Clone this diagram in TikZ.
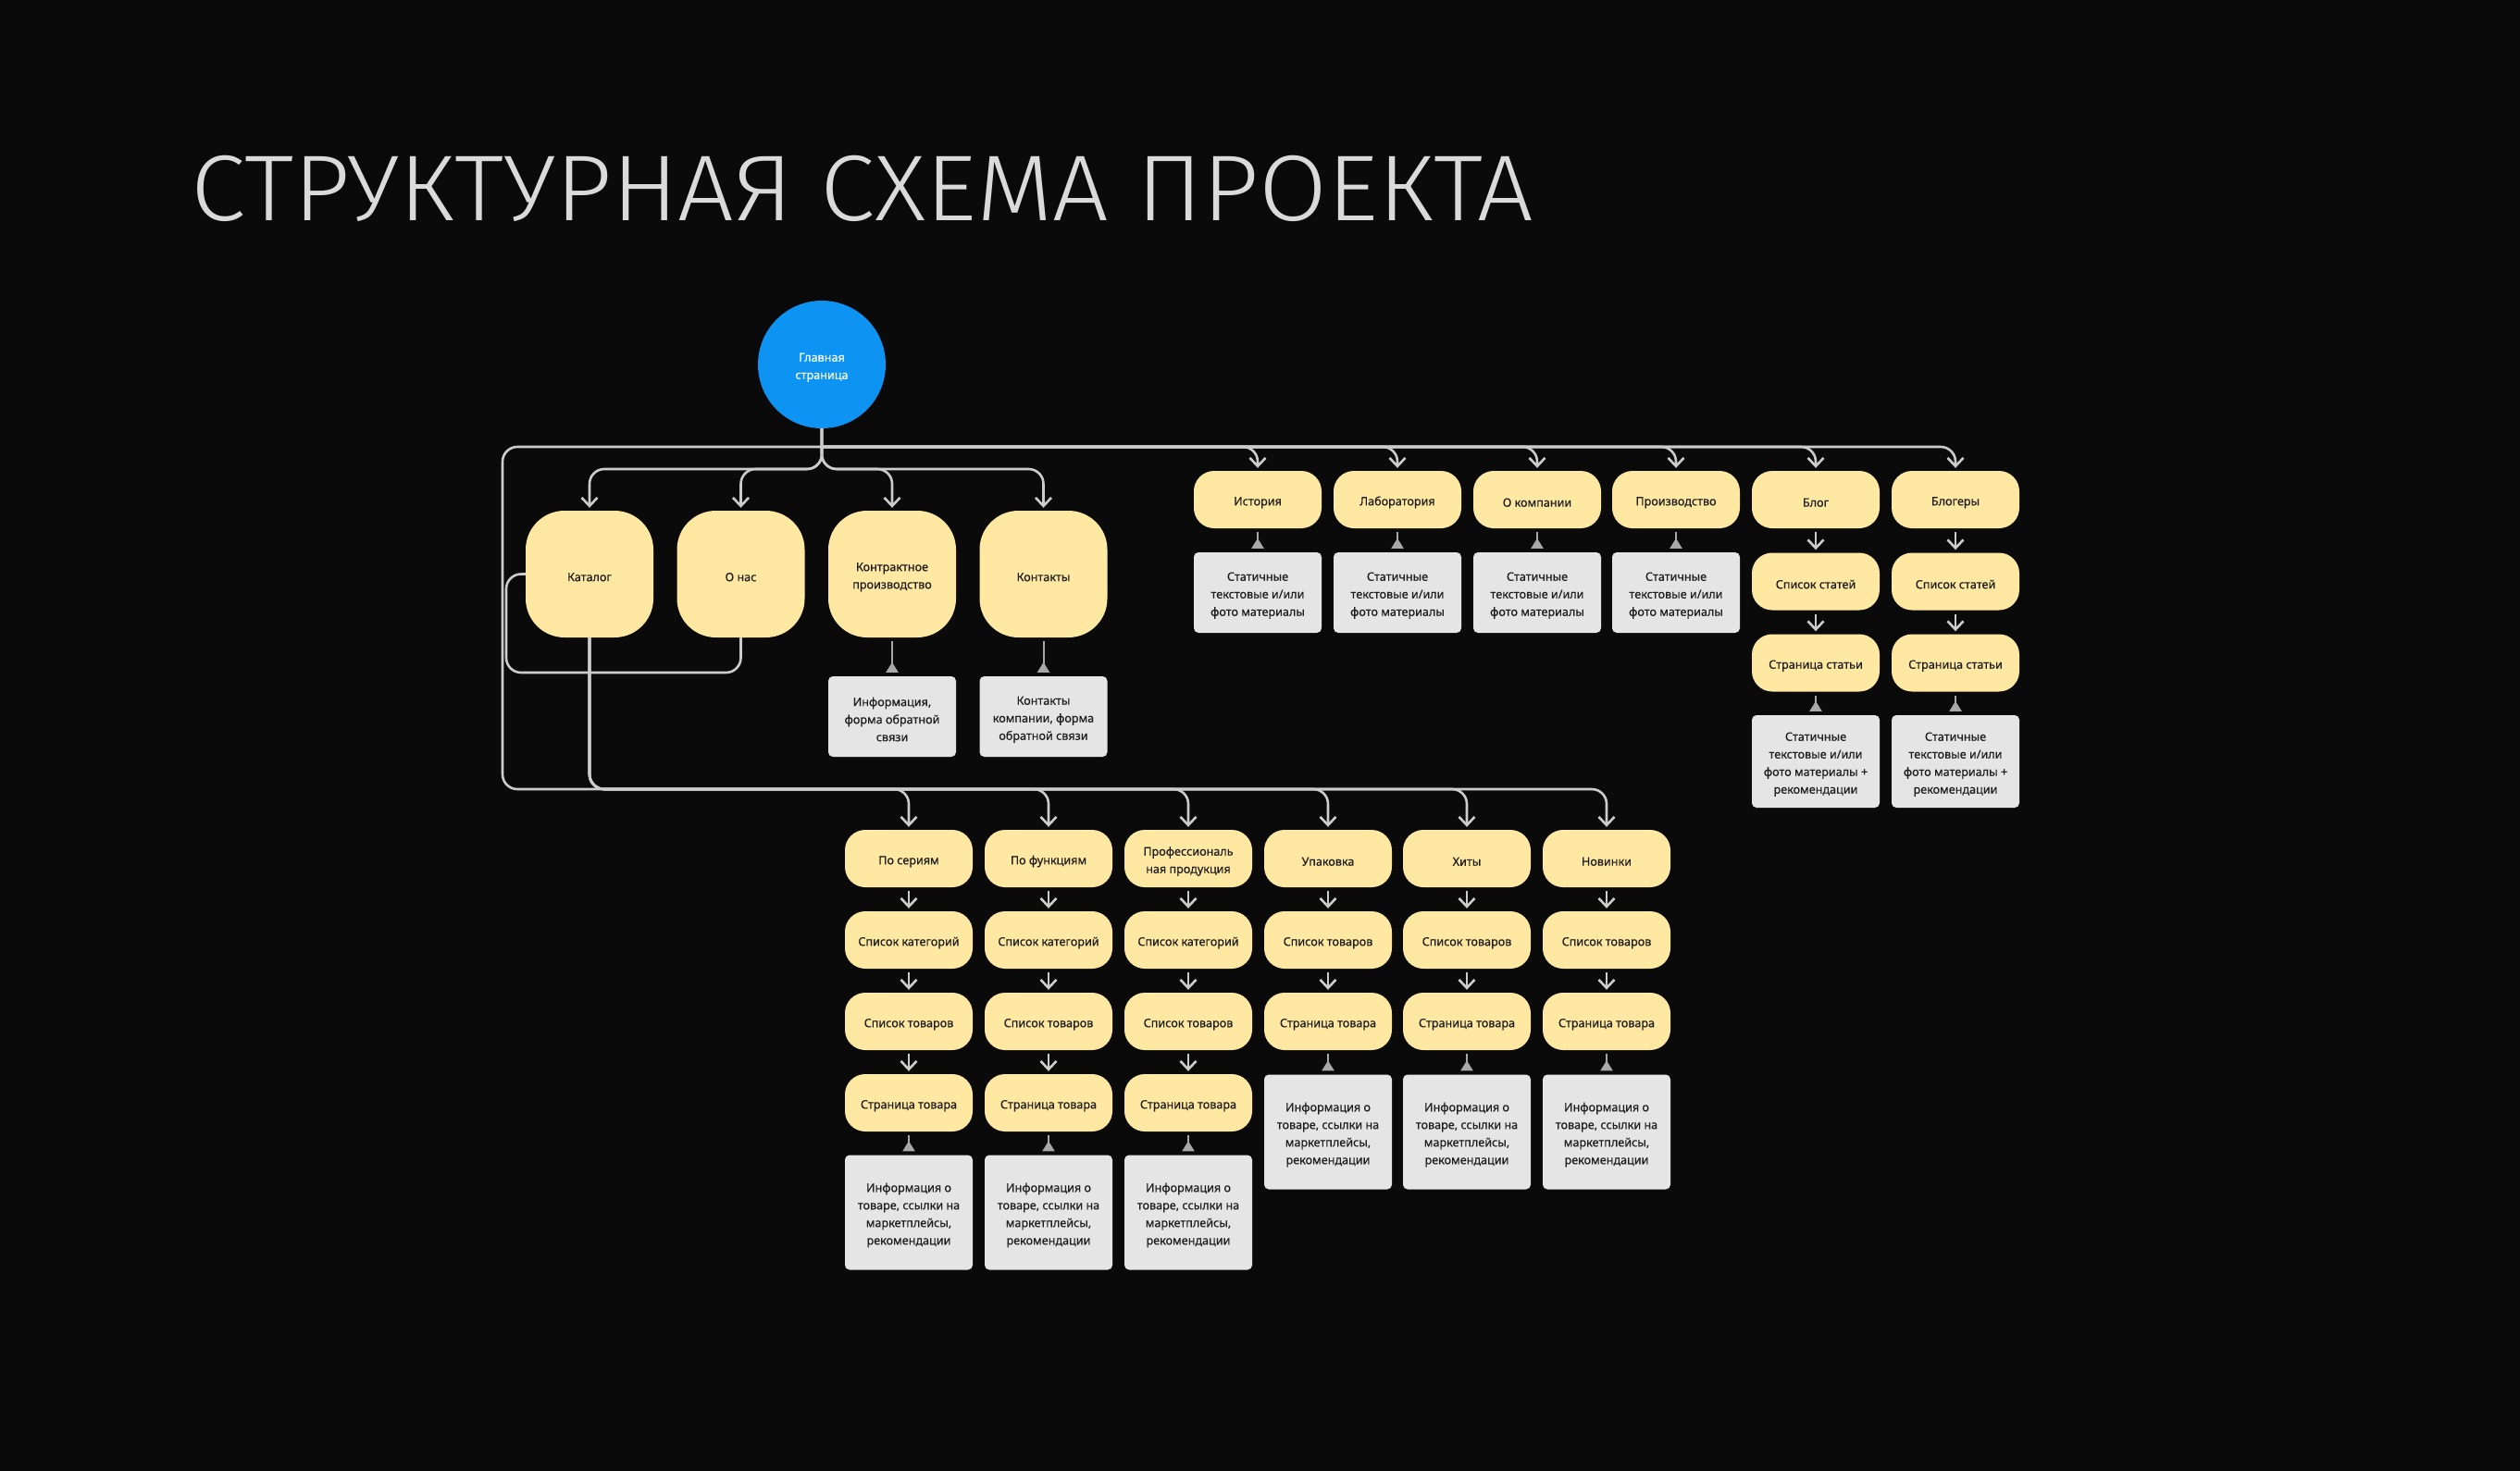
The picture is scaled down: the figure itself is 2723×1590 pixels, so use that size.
\documentclass[tikz,border=0pt]{standalone}
\usepackage{fontspec}
\setmainfont{Noto Sans}[FakeBold=0.5]
\newfontfamily\titlefont{Fira Sans Light}[FakeStretch=1.06]
\usetikzlibrary{arrows.meta,calc}
\definecolor{bgc}{HTML}{0A0A0A}
\definecolor{yelc}{HTML}{FEE8A2}
\definecolor{greyc}{HTML}{E5E5E5}
\definecolor{bluec}{HTML}{0D93F2}
\definecolor{linec}{HTML}{CCCCCC}
\definecolor{tric}{HTML}{A8A8A8}
\definecolor{txtc}{HTML}{1E1E1E}
\definecolor{titlec}{HTML}{DADADA}
\newcommand\txtup{\rule{0pt}{15.5pt}}
\tikzset{
  basefont/.style={font=\fontsize{12.6}{19}\selectfont, execute at begin node={\txtup}},
  pill/.style={rectangle, rounded corners=22pt, fill=yelc, minimum width=138pt, minimum height=62pt, align=center, text=txtc, inner sep=2pt, basefont},
  bigpill/.style={rectangle, rounded corners=42pt, fill=yelc, minimum width=138pt, minimum height=137pt, align=center, text=txtc, inner sep=2pt, basefont},
  gbox/.style={rectangle, rounded corners=5pt, fill=greyc, minimum width=138pt, align=center, text=txtc, inner sep=2pt, basefont},
  conn/.style={draw=linec, line width=2.6pt, rounded corners=16pt, -{Straight Barb[width=17pt,length=9pt]}, shorten >=3pt},
  plainlink/.style={draw=linec, line width=2.6pt, rounded corners=16pt},
  vconn/.style={conn, shorten <=4pt},
  infolink/.style={draw=tric, line width=2pt, -{Triangle[reversed,width=13pt,length=11pt]}, shorten >=4pt, shorten <=4pt},
}
\begin{document}
\begin{tikzpicture}[x=1pt,y=-1pt]
\fill[bgc] (0,0) rectangle (2723,1590);

\node[anchor=base west, text=titlec, font=\titlefont\fontsize{101}{101}\selectfont, inner sep=0pt] (title) at (206,238) {СТРУКТУРНАЯ СХЕМА ПРОЕКТА};

% main
\node[circle, fill=bluec, minimum size=138pt, inner sep=0pt, text=white, align=center, basefont] (m) at (888,394) {\txtup Главная\\страница};

% row A
\node[bigpill] (kat) at (637,620.5) {Каталог};
\node[bigpill] (onas) at (800.5,620.5) {О нас};
\node[bigpill] (kontr) at (964,620.5) {\txtup Контрактное\\производство};
\node[bigpill] (kont) at (1127.5,620.5) {Контакты};
\node[gbox, minimum height=87pt] (kontrI) at (964,774.5) {\txtup Информация,\\форма обратной\\связи};
\node[gbox, minimum height=87pt] (kontI) at (1127.5,774.5) {\txtup Контакты\\компании, форма\\обратной связи};

% right group
\node[pill] (ist) at (1359,540) {История};
\node[pill] (lab) at (1510,540) {Лаборатория};
\node[pill] (okomp) at (1661,540) {О компании};
\node[pill] (proizv) at (1811,540) {Производство};
\node[pill] (blog) at (1962,540) {Блог};
\node[pill] (blogers) at (2113,540) {Блогеры};
\node[gbox, minimum height=87pt] (istI) at (1359,640.5) {\txtup Статичные\\текстовые и/или\\фото материалы};
\node[gbox, minimum height=87pt] (labI) at (1510,640.5) {\txtup Статичные\\текстовые и/или\\фото материалы};
\node[gbox, minimum height=87pt] (okompI) at (1661,640.5) {\txtup Статичные\\текстовые и/или\\фото материалы};
\node[gbox, minimum height=87pt] (proizvI) at (1811,640.5) {\txtup Статичные\\текстовые и/или\\фото материалы};
\node[pill] (blogL) at (1962,628.5) {Список статей};
\node[pill] (blogP) at (1962,716.5) {Страница статьи};
\node[gbox, minimum height=100pt] (blogI) at (1962,823) {\txtup Статичные\\текстовые и/или\\фото материалы +\\рекомендации};
\node[pill] (blgL) at (2113,628.5) {Список статей};
\node[pill] (blgP) at (2113,716.5) {Страница статьи};
\node[gbox, minimum height=100pt] (blgI) at (2113,823) {\txtup Статичные\\текстовые и/или\\фото материалы +\\рекомендации};

% bottom group
\node[pill] (ser) at (982,928) {По сериям};
\node[pill] (func) at (1133,928) {По функциям};
\node[pill] (prof) at (1284,928) {\txtup Профессиональ\\ная продукция};
\node[pill] (upak) at (1435,928) {Упаковка};
\node[pill] (hity) at (1585,928) {Хиты};
\node[pill] (nov) at (1736,928) {Новинки};

\node[pill] (serC) at (982,1016) {Список категорий};
\node[pill] (funcC) at (1133,1016) {Список категорий};
\node[pill] (profC) at (1284,1016) {Список категорий};
\node[pill] (upakL) at (1435,1016) {Список товаров};
\node[pill] (hityL) at (1585,1016) {Список товаров};
\node[pill] (novL) at (1736,1016) {Список товаров};

\node[pill] (serL) at (982,1104) {Список товаров};
\node[pill] (funcL) at (1133,1104) {Список товаров};
\node[pill] (profL) at (1284,1104) {Список товаров};
\node[pill] (upakP) at (1435,1104) {Страница товара};
\node[pill] (hityP) at (1585,1104) {Страница товара};
\node[pill] (novP) at (1736,1104) {Страница товара};

\node[pill] (serP) at (982,1192) {Страница товара};
\node[pill] (funcP) at (1133,1192) {Страница товара};
\node[pill] (profP) at (1284,1192) {Страница товара};
\node[gbox, minimum height=124pt] (upakI) at (1435,1223.5) {\txtup Информация о\\товаре, ссылки на\\маркетплейсы,\\рекомендации};
\node[gbox, minimum height=124pt] (hityI) at (1585,1223.5) {\txtup Информация о\\товаре, ссылки на\\маркетплейсы,\\рекомендации};
\node[gbox, minimum height=124pt] (novI) at (1736,1223.5) {\txtup Информация о\\товаре, ссылки на\\маркетплейсы,\\рекомендации};

\node[gbox, minimum height=124pt] (serI) at (982,1310.5) {\txtup Информация о\\товаре, ссылки на\\маркетплейсы,\\рекомендации};
\node[gbox, minimum height=124pt] (funcI) at (1133,1310.5) {\txtup Информация о\\товаре, ссылки на\\маркетплейсы,\\рекомендации};
\node[gbox, minimum height=124pt] (profI) at (1284,1310.5) {\txtup Информация о\\товаре, ссылки на\\маркетплейсы,\\рекомендации};

% junction coordinates
\coordinate (j1) at (888,483);
\coordinate (b2) at (888,507);
\coordinate (j3) at (543,853);
\coordinate (lp) at (547,727);

% connectors
\foreach \n in {kat,onas,kontr,kont} \draw[conn] (m.south) |- (\n.north |- b2) -- (\n.north);
\foreach \n in {ist,lab,okomp,proizv,blog,blogers} \draw[conn] (j1) -| (\n.north);
\draw[conn] (j1) -| (j3) -| (nov.north);
\foreach \n in {ser,func,prof,upak,hity} \draw[conn] (kat.south) |- (\n.north |- j3) -- (\n.north);
\draw[plainlink] (kat.west) -| (lp) -| (onas.south);

\foreach \a/\b in {blog/blogL,blogL/blogP,blogers/blgL,blgL/blgP,
  ser/serC,serC/serL,serL/serP,func/funcC,funcC/funcL,funcL/funcP,prof/profC,profC/profL,profL/profP,
  upak/upakL,upakL/upakP,hity/hityL,hityL/hityP,nov/novL,novL/novP}
  \draw[vconn] (\a.south) -- (\b.north);

\foreach \a/\b in {kontr/kontrI,kont/kontI,ist/istI,lab/labI,okomp/okompI,proizv/proizvI,blogP/blogI,blgP/blgI,
  serP/serI,funcP/funcI,profP/profI,upakP/upakI,hityP/hityI,novP/novI}
  \draw[infolink] (\a.south) -- (\b.north);
\end{tikzpicture}
\end{document}
